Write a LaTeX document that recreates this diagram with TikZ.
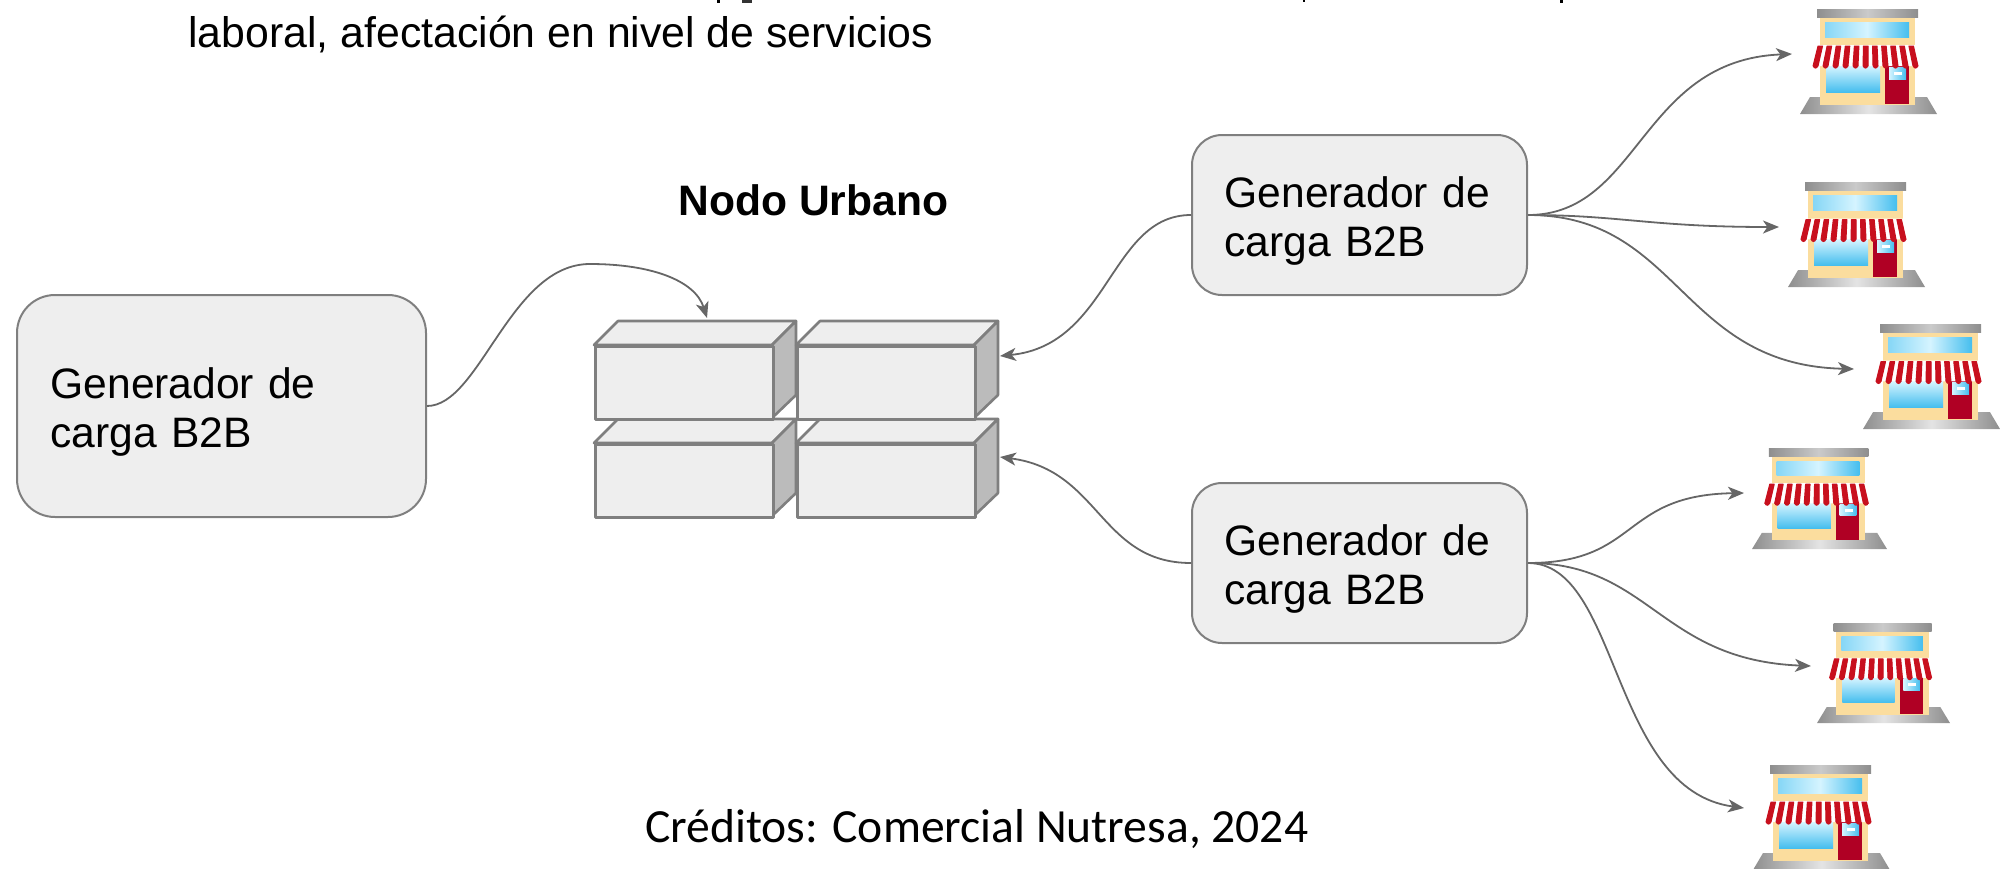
\documentclass[tikz,border=0pt]{standalone}
\usepackage{fontspec}
\setmainfont{Liberation Sans}
\newfontfamily\credfont{Carlito}
\usetikzlibrary{arrows.meta,shadings}
\definecolor{boxfill}{HTML}{EEEEEE}
\definecolor{boxline}{HTML}{7F7F7F}
\definecolor{sidefill}{HTML}{BBBBBB}
\definecolor{wire}{HTML}{666666}
\definecolor{wall}{HTML}{FBDD9E}
\definecolor{sky}{HTML}{45BEEE}
\definecolor{skylight}{HTML}{D5F4FF}
\definecolor{awnred}{HTML}{C8101E}
\definecolor{doorred}{HTML}{B00024}
\definecolor{steel}{HTML}{8E8E8E}
\definecolor{steellight}{HTML}{E4E4E4}
\tikzset{
  genbox/.style={draw=boxline,line width=1pt,fill=boxfill,rounded corners=15pt,align=left,anchor=center,font=\fontsize{21.3}{24.5}\selectfont,text=black,inner xsep=0pt,inner ysep=0pt},
  crateface/.style={draw=boxline,line width=1.3pt,fill=boxfill,line join=round},
  crateside/.style={draw=boxline,line width=1.3pt,fill=sidefill,line join=round},
  conn/.style={draw=wire,line width=.9pt,-{Stealth[length=8pt,width=6.5pt,inset=2.2pt]}},
  caption/.style={anchor=base west,inner sep=0pt,text=black}
}
% name, left, top of the front face
\newcommand{\cratebox}[3]{%
  \begin{scope}[shift={(#2,#3)}]
    \fill[crateface] (0,0) -- (24,-24) -- (202,-24) -- (178,0) -- cycle;
    \fill[crateside] (178,0) -- (202,-24) -- (202,50) -- (178,73) -- cycle;
    \node[crateface,inner sep=0pt,anchor=north west,minimum width=89pt,minimum height=36.5pt] (#1) at (0,0) {};
  \end{scope}}
% name, left, top, width, height
\newcommand{\storeicon}[5]{%
  \begin{scope}[shift={(#2,#3)},xscale=#4/137,yscale=#5/107]
    \coordinate (#1) at (0,0);
    \shade[left color=steel,right color=steel,middle color=steellight] (10,89) -- (127,89) -- (137,106) -- (0,106) -- cycle;
    \fill[wall] (20,9) rectangle (115,97);
    \shade[left color=steel,right color=steel,middle color=steellight!70!steel] (17,1) rectangle (118,9);
    \shade[left color=sky!55!skylight,right color=sky,middle color=skylight] (25,14) rectangle (109,29);
    \shade[left color=skylight,right color=sky,shading angle=0] (26,58) rectangle (80,84);
    \fill[doorred] (85,58) rectangle (109,96);
    \shade[left color=skylight,right color=sky] (89,59) rectangle (106,71);
    \fill[white] (94,64) rectangle (102,67);
    \fill[white,draw=white,line width=1pt,line join=round] (18,38) -- (118,38) -- (123,57) -- (13,57) -- cycle;
    \foreach \k in {0,...,10}{
      \fill[awnred,draw=awnred,line width=.5pt,line join=round]
        ({18+\k*100/11},38) -- ({18+(\k+.5)*100/11},38) -- ({13+(\k+.5)*110/11},58) -- ({13+\k*110/11},58) -- cycle;
      \fill[awnred] ({13+(\k+.25)*10},58) circle[radius=2.6];
    }
  \end{scope}}
\begin{document}
\begin{tikzpicture}[x=.5pt,y=-.5pt]
  \useasboundingbox (0,0) rectangle (2009,868);
  \clip (0,0) rectangle (2009,868);

  % text cut off by the upper edge
  \fill[black] (717,0) rectangle (720,3);
  \fill[black!80] (742,0) rectangle (752,2.5);
  \fill[black] (1303,0) rectangle (1305,2);
  \fill[black] (1560,0) rectangle (1563,3);

  \node[caption,font=\fontsize{21.4}{25}\selectfont] (topline) at (188,47) {laboral, afectación en nivel de servicios};
  \node[caption,font=\bfseries\fontsize{21.3}{25}\selectfont] (title) at (678,215) {Nodo Urbano};
  \node[caption,font=\credfont\fontsize{23.8}{28}\selectfont] (credit) at (645,842) {Créditos: Comercial Nutresa, 2024};

  \node[genbox,rounded corners=19pt,minimum width=204.5pt,minimum height=111pt,text width=171pt] (genL) at (221.5,406) {\rule{0pt}{21.5pt}Generador de\\carga B2B};
  \node[genbox,minimum width=167.5pt,minimum height=80pt,text width=135pt] (genA) at (1359.5,215) {\rule{0pt}{21.5pt}Generador de\\carga B2B};
  \node[genbox,minimum width=167.5pt,minimum height=80pt,text width=135pt] (genB) at (1359.5,563) {\rule{0pt}{21.5pt}Generador de\\carga B2B};

  \cratebox{c3}{594}{443}
  \cratebox{c4}{796}{443}
  \cratebox{c1}{594}{345}
  \cratebox{c2}{796}{345}

  \storeicon{s1}{1800}{8}{137}{107}
  \storeicon{s2}{1788}{182}{137}{106}
  \storeicon{s3}{1863}{324}{137}{106}
  \storeicon{s4}{1752}{448}{135}{102}
  \storeicon{s5}{1817}{623}{133}{101}
  \storeicon{s6}{1753}{764}{137}{107}

  \coordinate (inTop) at (707,318);
  \coordinate (inA) at (1000,356);
  \coordinate (inB) at (1000,457);
  \coordinate (t1) at (1792,54);
  \coordinate (t2) at (1779,227);
  \coordinate (t3) at (1854,369);
  \coordinate (t4) at (1744,493);
  \coordinate (t5) at (1811,666);
  \coordinate (t6) at (1744,808);

  \draw[conn] (genL.east) .. controls (480,406) and (510,264) .. (590,264) .. controls (650,264) and (695,280) .. (inTop);
  \draw[conn] (genA.west) .. controls (1110,215) and (1110,345) .. (inA);
  \draw[conn] (genB.west) .. controls (1100,563) and (1100,470) .. (inB);
  \draw[conn] (genA.east) .. controls (1640,215) and (1640,60) .. (t1);
  \draw[conn] (genA.east) .. controls (1620,215) and (1650,227) .. (t2);
  \draw[conn] (genA.east) .. controls (1680,215) and (1680,365) .. (t3);
  \draw[conn] (genB.east) .. controls (1640,563) and (1620,495) .. (t4);
  \draw[conn] (genB.east) .. controls (1650,563) and (1660,660) .. (t5);
  \draw[conn] (genB.east) .. controls (1620,563) and (1610,790) .. (t6);
\end{tikzpicture}
\end{document}
